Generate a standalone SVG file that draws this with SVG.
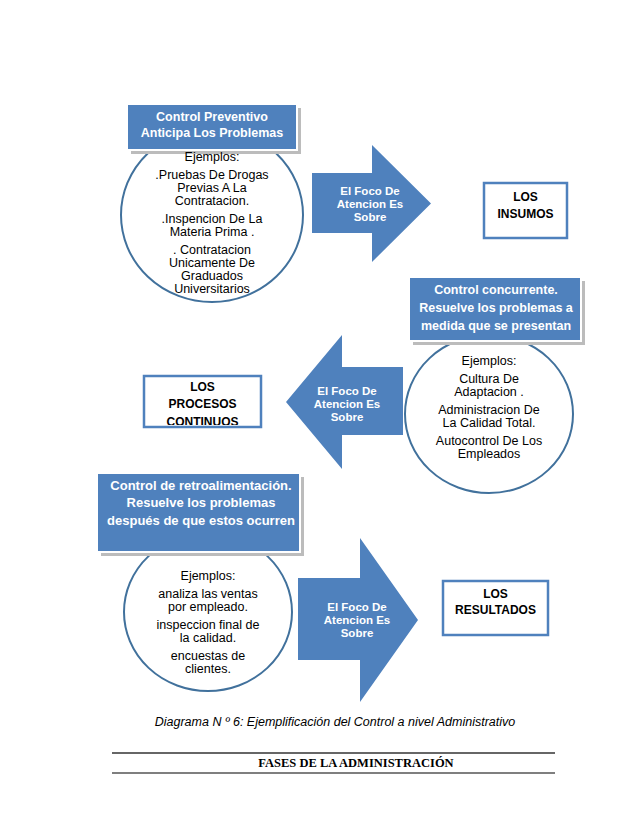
<svg xmlns="http://www.w3.org/2000/svg" width="638" height="826" viewBox="0 0 638 826">
<defs>
<style>
.circ{fill:#fff;stroke:#41719C;stroke-width:2}
.lbl{fill:#4F81BD;stroke:#fff;stroke-width:2}
.shd{fill:#bcbcbc}
.arr{fill:#4F81BD}
.box{fill:#fff;stroke:#4F81BD;stroke-width:2.5}
.t{font-family:"Liberation Sans",Arial,sans-serif;font-size:12.5px;fill:#000;text-anchor:middle}
.tw{font-family:"Liberation Sans",Arial,sans-serif;font-size:12.5px;font-weight:bold;fill:#fff;text-anchor:middle}
.ta{font-family:"Liberation Sans",Arial,sans-serif;font-size:11.5px;font-weight:bold;fill:#fff;text-anchor:middle}
.tb{font-family:"Liberation Sans",Arial,sans-serif;font-size:12px;font-weight:bold;fill:#000;text-anchor:middle}
</style>
<clipPath id="clipProc"><rect x="145" y="377" width="115" height="48"/></clipPath>
</defs>
<rect width="638" height="826" fill="#fff"/>

<g id="connectors">
<path class="arr" d="M312,173 H372 V145 L431,203.5 L372,262 V233 H312 Z"/>
<path class="arr" d="M403,367 H342 V335 L286,402 L342,469 V435 H403 Z"/>
<path class="arr" d="M298,578 H360 V538 L418,620 L360,702 V660 H298 Z"/>
<text class="ta" x="370" y="195">El Foco De</text>
<text class="ta" x="370" y="208">Atencion Es</text>
<text class="ta" x="370" y="221">Sobre</text>
<text class="ta" x="347" y="395">El Foco De</text>
<text class="ta" x="347" y="408">Atencion Es</text>
<text class="ta" x="347" y="421">Sobre</text>
<text class="ta" x="357" y="611">El Foco De</text>
<text class="ta" x="357" y="624">Atencion Es</text>
<text class="ta" x="357" y="637">Sobre</text>
</g>

<g id="preventivo">
<ellipse class="circ" cx="212" cy="215" rx="91" ry="87"/>
<rect class="shd" x="131" y="108" width="170" height="46"/>
<rect class="lbl" x="127" y="104" width="170" height="46"/>
<text class="tw" x="212" y="121">Control Preventivo</text>
<text class="tw" x="212" y="137">Anticipa Los Problemas</text>
<text class="t" x="212" y="161">Ejemplos:</text>
<text class="t" x="212" y="179">.Pruebas De Drogas</text>
<text class="t" x="212" y="192">Previas A La</text>
<text class="t" x="212" y="205">Contratacion.</text>
<text class="t" x="212" y="223">.Inspencion De La</text>
<text class="t" x="212" y="236">Materia Prima .</text>
<text class="t" x="212" y="254">. Contratacion</text>
<text class="t" x="212" y="267">Unicamente De</text>
<text class="t" x="212" y="280">Graduados</text>
<text class="t" x="212" y="293">Universitarios</text>
</g>

<g id="insumos">
<rect class="box" x="484" y="183" width="83" height="55"/>
<text class="tb" x="525.5" y="201">LOS</text>
<text class="tb" x="525.5" y="218">INSUMOS</text>
</g>

<g id="concurrente">
<ellipse class="circ" cx="489" cy="414" rx="84" ry="79"/>
<rect class="shd" x="413" y="281" width="172" height="64"/>
<rect class="lbl" x="409" y="277" width="172" height="64"/>
<text class="tw" x="496" y="294">Control concurrente.</text>
<text class="tw" x="496" y="312">Resuelve los problemas a</text>
<text class="tw" x="496" y="330">medida que se presentan</text>
<text class="t" x="489" y="365">Ejemplos:</text>
<text class="t" x="489" y="383">Cultura De</text>
<text class="t" x="489" y="396">Adaptacion .</text>
<text class="t" x="489" y="414">Administracion De</text>
<text class="t" x="489" y="427">La Calidad Total.</text>
<text class="t" x="489" y="445">Autocontrol De Los</text>
<text class="t" x="489" y="458">Empleados</text>
</g>

<g id="procesos">
<rect class="box" x="144" y="376" width="117" height="51"/>
<g clip-path="url(#clipProc)">
<text class="tb" x="202.5" y="391">LOS</text>
<text class="tb" x="202.5" y="408">PROCESOS</text>
<text class="tb" x="202.5" y="426">CONTINUOS</text>
</g>
</g>

<g id="retroalimentacion">
<ellipse class="circ" cx="208" cy="612" rx="84" ry="79"/>
<rect class="shd" x="101" y="477" width="203" height="79"/>
<rect class="lbl" x="97" y="473" width="203" height="79"/>
<text class="tw" x="201" y="490" style="font-size:13px">Control de retroalimentación.</text>
<text class="tw" x="201" y="507" style="font-size:13px">Resuelve los problemas</text>
<text class="tw" x="201" y="525" style="font-size:13px">después de que estos ocurren</text>
<text class="t" x="208" y="580">Ejemplos:</text>
<text class="t" x="208" y="598">analiza las ventas</text>
<text class="t" x="208" y="611">por empleado.</text>
<text class="t" x="208" y="629">inspeccion final de</text>
<text class="t" x="208" y="642">la calidad.</text>
<text class="t" x="208" y="660">encuestas de</text>
<text class="t" x="208" y="673">clientes.</text>
</g>

<g id="resultados">
<rect class="box" x="443" y="581" width="105" height="54"/>
<text class="tb" x="495.5" y="598">LOS</text>
<text class="tb" x="495.5" y="614">RESULTADOS</text>
</g>

<g id="caption">
<text x="335" y="726" font-family="'Liberation Sans',Arial,sans-serif" font-size="12.5" font-style="italic" text-anchor="middle" fill="#000">Diagrama N º 6: Ejemplificación del Control a nivel Administrativo</text>
<line x1="112" y1="753" x2="555" y2="753" stroke="#333" stroke-width="1.5"/>
<line x1="112" y1="773" x2="555" y2="773" stroke="#555" stroke-width="1.5"/>
<text x="356" y="767" font-family="'Liberation Serif','Times New Roman',serif" font-size="12.5" font-weight="bold" text-anchor="middle" fill="#000">FASES DE LA ADMINISTRACIÓN</text>
</g>
</svg>
